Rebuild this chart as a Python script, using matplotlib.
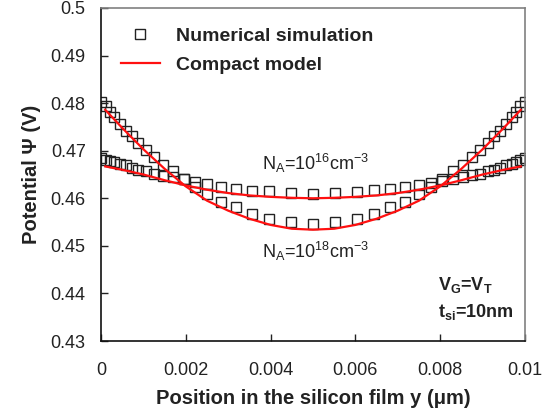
import matplotlib
matplotlib.use("Agg")
import matplotlib.pyplot as plt
from matplotlib.lines import Line2D

plt.rcParams['font.family'] = ['Liberation Sans', 'DejaVu Sans']
plt.rcParams['mathtext.fontset'] = 'custom'
plt.rcParams['mathtext.rm'] = 'Liberation Sans'
plt.rcParams['mathtext.bf'] = 'Liberation Sans:bold'

# Numerical simulation (markers)
x_sim = [0.0, 0.00011, 0.00021, 0.00031, 0.00045, 0.00058, 0.00072, 0.00088, 0.00106,
         0.00126, 0.00147, 0.00169, 0.00196, 0.00221, 0.00249, 0.00282, 0.00318, 0.00357,
         0.00397, 0.00448, 0.00501, 0.00552, 0.00603, 0.00643, 0.00682, 0.00718, 0.00751,
         0.00779, 0.00804, 0.00831, 0.00853, 0.00874, 0.00894, 0.00912, 0.00928, 0.00942,
         0.00955, 0.00969, 0.00979, 0.00989, 0.01]
sim_1e16 = [0.4684, 0.4680, 0.4678, 0.4676, 0.4673, 0.4669, 0.4664, 0.4659, 0.4657,
            0.4652, 0.4647, 0.4645, 0.4640, 0.4635, 0.4630, 0.4623, 0.4620, 0.4616,
            0.4615, 0.4611, 0.4609, 0.4612, 0.4614, 0.4617, 0.4620, 0.4624, 0.4627,
            0.4632, 0.4636, 0.4641, 0.4645, 0.4648, 0.4652, 0.4657, 0.4660, 0.4664,
            0.4670, 0.4673, 0.4677, 0.4680, 0.4684]
sim_1e18 = [0.4802, 0.4793, 0.4782, 0.4771, 0.4756, 0.4742, 0.4730, 0.4717, 0.4702,
            0.4686, 0.4671, 0.4657, 0.4640, 0.4624, 0.4609, 0.4593, 0.4581, 0.4567,
            0.4557, 0.4551, 0.4546, 0.4551, 0.4557, 0.4567, 0.4581, 0.4593, 0.4609,
            0.4624, 0.4640, 0.4657, 0.4671, 0.4686, 0.4702, 0.4717, 0.4730, 0.4742,
            0.4756, 0.4771, 0.4782, 0.4793, 0.4802]

# Compact model (lines)
x_mod = [0.0001, 0.0005, 0.001, 0.0015, 0.002, 0.0025, 0.003, 0.0035, 0.004, 0.0045, 0.005,
         0.0055, 0.006, 0.0065, 0.007, 0.0075, 0.008, 0.0085, 0.009, 0.0095, 0.0099]
mod_1e16 = [0.4667, 0.4660, 0.4650, 0.4638, 0.4627, 0.4618, 0.4611, 0.4606, 0.4603, 0.4601, 0.4600,
            0.4601, 0.4603, 0.4606, 0.4611, 0.4618, 0.4627, 0.4638, 0.4650, 0.4660, 0.4667]
mod_1e18 = [0.4786, 0.4748, 0.4703, 0.4662, 0.4625, 0.4595, 0.4574, 0.4557, 0.4544, 0.4536, 0.4534,
            0.4536, 0.4544, 0.4557, 0.4574, 0.4595, 0.4625, 0.4662, 0.4703, 0.4748, 0.4786]

x_ticks = [0, 0.002, 0.004, 0.006, 0.008, 0.01]
x_ticklabels = ['0', '0.002', '0.004', '0.006', '0.008', '0.01']
y_ticks = [0.43, 0.44, 0.45, 0.46, 0.47, 0.48, 0.49, 0.5]
y_ticklabels = ['0.43', '0.44', '0.45', '0.46', '0.47', '0.48', '0.49', '0.5']

txt = '#222222'
fig = plt.figure(figsize=(5.5, 4.12), dpi=100)
ax = fig.add_axes([101/550, 1-341/412, (525-101)/550, (341-8)/412])

mk = dict(marker='s', ms=7.4, mfc='none', mec='#222222', mew=1.0, ls='none')
ax.plot(x_sim, sim_1e16, **mk)
ax.plot(x_sim, sim_1e18, **mk)
ax.plot(x_mod, mod_1e16, color='#ff1010', lw=1.6)
ax.plot(x_mod, mod_1e18, color='#ff1010', lw=1.6)

ax.set_xlim(0, 0.01)
ax.set_ylim(0.43, 0.5)
ax.set_xticks(x_ticks)
ax.set_xticklabels(x_ticklabels)
ax.set_yticks(y_ticks)
ax.set_yticklabels(y_ticklabels)
ax.tick_params(axis='x', direction='in', length=5, width=1, pad=15, labelsize=13, colors=txt)
ax.tick_params(axis='y', direction='in', length=5, width=1, pad=11, labelsize=13, colors=txt)
for s in ['left', 'bottom']:
    ax.spines[s].set_color('#111111')
    ax.spines[s].set_linewidth(1.2)
for s in ['top', 'right']:
    ax.spines[s].set_color('#808080')
    ax.spines[s].set_linewidth(1.2)

ax.set_xlabel('Position in the silicon film y (μm)', fontsize=14.5, fontweight='bold', color=txt, labelpad=7)
ax.set_ylabel('Potential Ψ (V)', fontsize=14.5, fontweight='bold', color=txt, labelpad=7)

ax.text(0.0038, 0.4674, r'N$_\mathregular{A}$=10$^\mathregular{16}$cm$^\mathregular{-3}$',
        fontsize=13, color=txt, va='center', ha='left')
ax.text(0.0038, 0.4488, r'N$_\mathregular{A}$=10$^\mathregular{18}$cm$^\mathregular{-3}$',
        fontsize=13, color=txt, va='center', ha='left')
ax.text(0.00795, 0.4418, r'V$_\mathbf{G}$=V$_\mathbf{T}$', fontsize=13, fontweight='bold',
        color=txt, va='center', ha='left')
ax.text(0.00795, 0.4361, r't$_\mathbf{si}$=10nm', fontsize=13, fontweight='bold',
        color=txt, va='center', ha='left')

handles = [Line2D([], [], **mk), Line2D([], [], color='#ff1010', lw=1.6)]
leg = ax.legend(handles, ['Numerical simulation', 'Compact model'], loc='upper left',
                bbox_to_anchor=(121/550, 1-27/412), bbox_transform=fig.transFigure,
                frameon=False, borderpad=0, borderaxespad=0, handlelength=2.0,
                handletextpad=0.82, labelspacing=0.62, numpoints=1,
                prop={'size': 14, 'weight': 'bold'})
for t in leg.get_texts():
    t.set_color(txt)

fig.savefig('out.png', dpi=100)
